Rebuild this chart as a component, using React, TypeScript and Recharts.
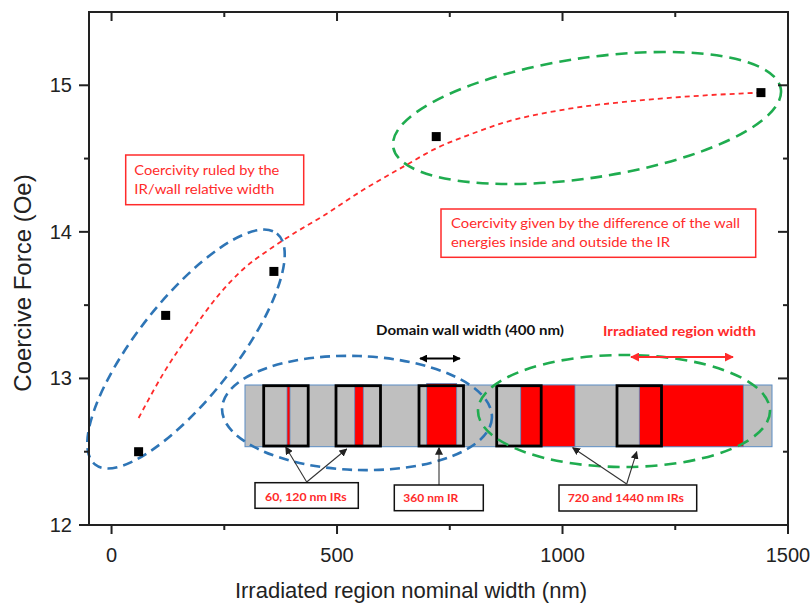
import { ComposedChart, Line, ReferenceLine, Scatter, XAxis, YAxis } from 'recharts';

// measured coercive force of the irradiated-region samples
const irWidths = [60, 120, 360, 720, 1440];
const coerciveForce = [12.5, 13.43, 13.73, 14.65, 14.95];

// red guide-to-the-eye curve
const guideWidths = [60, 120, 175, 235, 290, 350, 410, 470, 560, 650, 720, 800, 870, 1015, 1165, 1310, 1440];
const guideForce = [12.73, 13.06, 13.31, 13.56, 13.74, 13.88, 14.0, 14.11, 14.29, 14.45, 14.57, 14.67, 14.745, 14.84, 14.895, 14.93, 14.95];

const xTicks = [0, 250, 500, 750, 1000, 1250, 1500];
const yTicks = [12, 12.5, 13, 13.5, 14, 14.5, 15];
const xDomain = [-50, 1500];
const yDomain = [12, 15.5];

const points = irWidths.map((x, i) => ({ x, y: coerciveForce[i] }));
const guide = guideWidths.map((x, i) => ({ x, y: guideForce[i] }));

const W = 812;
const H = 606;
const MARGIN = { top: 12, right: 24, bottom: 0, left: 0 };
const PLOT_TOP = MARGIN.top;
const PLOT_RIGHT = W - MARGIN.right;
const PLOT_LEFT = 89;
const PLOT_BOTTOM = H - 81;

const AXIS = '#222';
const RED = '#ff2b2b';
const BLUE = '#2e75b6';
const GREEN = '#1fac4f';
const FONT = '"Liberation Sans", Arial, sans-serif';
const NOTE_FONT = 'Lato, "Noto Sans", sans-serif';

const isMajorX = (v: number) => v % 500 === 0;
const isMajorY = (v: number) => Number.isInteger(v);

// bottom ticks point out, the mirrored top ticks point in
function XTick(p: any) {
  const len = isMajorX(p.payload.value) ? 9 : 5;
  return (
    <g>
      <line x1={p.x} x2={p.x} y1={p.y} y2={p.y + len} stroke={AXIS} strokeWidth={2} />
      <line x1={p.x} x2={p.x} y1={PLOT_TOP} y2={PLOT_TOP + len} stroke={AXIS} strokeWidth={2} />
      {len === 9 && (
        <text x={p.x} y={p.y + 37} textAnchor="middle" fontSize={20} fontFamily={FONT} fill={AXIS}>
          {p.payload.value}
        </text>
      )}
    </g>
  );
}

function YTick(p: any) {
  const len = isMajorY(p.payload.value) ? 10 : 5;
  return (
    <g>
      <line x1={p.x} x2={p.x - len} y1={p.y} y2={p.y} stroke={AXIS} strokeWidth={2} />
      <line x1={PLOT_RIGHT} x2={PLOT_RIGHT - len} y1={p.y} y2={p.y} stroke={AXIS} strokeWidth={2} />
      {len === 10 && (
        <text x={p.x - 17} y={p.y + 7} textAnchor="end" fontSize={20} fontFamily={FONT} fill={AXIS}>
          {p.payload.value}
        </text>
      )}
    </g>
  );
}

function Square(p: any) {
  return <rect x={p.cx - 4.5} y={p.cy - 4.5} width={9} height={9} fill="#000" />;
}

function XTitle(p: any) {
  const vb = p.viewBox;
  return (
    <text x={vb.x + 322} y={vb.y + 73} textAnchor="middle" fontSize={22} fontFamily={FONT} fill={AXIS}>
      Irradiated region nominal width (nm)
    </text>
  );
}

function YTitle(p: any) {
  const vb = p.viewBox;
  const cx = vb.x + 31;
  const cy = 283;
  return (
    <text x={cx} y={cy} transform={`rotate(-90 ${cx} ${cy})`} textAnchor="middle" fontSize={24} fontFamily={FONT} fill={AXIS}>
      Coercive Force (Oe)
    </text>
  );
}

// schematic drawn behind the chart: ellipses, notes and the stripe inset
function Annotations() {
  const barTop = 385;
  const barBottom = 446.7;
  const reds = [
    [287, 3],
    [354.7, 8.6],
    [426.7, 30],
    [520.7, 54.3],
    [639.3, 104],
  ];
  const boxes = [263.7, 336, 419, 496.7, 617];
  const dashBlue = { fill: 'none', stroke: BLUE, strokeWidth: 2.6, strokeDasharray: '10 6' };
  const dashGreen = { fill: 'none', stroke: GREEN, strokeWidth: 2.6, strokeDasharray: '12 7' };
  const arrow = { stroke: '#333', strokeWidth: 1.1, markerEnd: 'url(#tip)' };
  return (
    <svg width={W} height={H} style={{ position: 'absolute', left: 0, top: 0 }}>
      <defs>
        <marker id="tip" viewBox="0 0 10 10" refX="9" refY="5" markerWidth="8" markerHeight="8" markerUnits="userSpaceOnUse" orient="auto">
          <path d="M0,0 L10,5 L0,10 z" fill="#222" />
        </marker>
        <marker id="tipB" viewBox="0 0 10 10" refX="9" refY="5" markerWidth="8" markerHeight="8" markerUnits="userSpaceOnUse" orient="auto-start-reverse">
          <path d="M0,0 L10,5 L0,10 z" fill="#000" />
        </marker>
        <marker id="tipR" viewBox="0 0 10 10" refX="9" refY="5" markerWidth="9" markerHeight="9" markerUnits="userSpaceOnUse" orient="auto-start-reverse">
          <path d="M0,0 L10,5 L0,10 z" fill={RED} />
        </marker>
      </defs>

      {/* notes */}
      <rect x={125.7} y={155} width={178} height={49.7} fill="#fff" stroke={RED} strokeWidth={1.5} />
      <text x={134.3} y={175} fontSize={14} fontFamily={NOTE_FONT} fill={RED} textLength={145} lengthAdjust="spacingAndGlyphs">
        Coercivity ruled by the
      </text>
      <text x={134.3} y={194} fontSize={14} fontFamily={NOTE_FONT} fill={RED} textLength={140} lengthAdjust="spacingAndGlyphs">
        IR/wall relative width
      </text>
      <rect x={441} y={209} width={314.7} height={48.3} fill="#fff" stroke={RED} strokeWidth={1.5} />
      <text x={451} y={227.5} fontSize={14} fontFamily={NOTE_FONT} fill={RED} textLength={289} lengthAdjust="spacingAndGlyphs">
        Coercivity given by the difference of the wall
      </text>
      <text x={451} y={247} fontSize={14} fontFamily={NOTE_FONT} fill={RED} textLength={219} lengthAdjust="spacingAndGlyphs">
        energies inside and outside the IR
      </text>

      {/* stripe inset */}
      <rect x={245} y={barTop} width={527} height={barBottom - barTop} fill="#bfbfbf" stroke="#5b8cc4" strokeWidth={1} />
      {reds.map(([x, w], i) => (
        <rect key={i} x={x} y={i === 2 ? barTop - 1.5 : barTop} width={w} height={barBottom - barTop + (i === 2 ? 1.5 : 0)} fill="#ff0000" stroke="#5b8cc4" strokeWidth={0.8} />
      ))}
      {boxes.map((x, i) => (
        <rect key={i} x={x} y={barTop + 0.7} width={44.5} height={60.3} fill="none" stroke="#000" strokeWidth={2.8} />
      ))}

      <ellipse cx={186} cy={349} rx={147} ry={49} transform="rotate(-51.8 186 349)" {...dashBlue} />
      <ellipse cx={357} cy={413} rx={135} ry={57} transform="rotate(2 357 413)" {...dashBlue} />
      <ellipse cx={587} cy={118} rx={196} ry={60} transform="rotate(-8.5 587 118)" {...dashGreen} />
      <ellipse cx={624} cy={411} rx={146} ry={56} {...dashGreen} />

      <text x={376} y={335} fontSize={13} fontWeight={700} fontFamily={NOTE_FONT} fill="#111" textLength={188} lengthAdjust="spacingAndGlyphs">
        Domain wall width (400 nm)
      </text>
      <line x1={420} y1={358.5} x2={460} y2={358.5} stroke="#000" strokeWidth={2} markerStart="url(#tipB)" markerEnd="url(#tipB)" />
      <text x={603} y={336} fontSize={13} fontWeight={700} fontFamily={NOTE_FONT} fill={RED} textLength={153} lengthAdjust="spacingAndGlyphs">
        Irradiated region width
      </text>
      <line x1={631} y1={357} x2={733} y2={357} stroke={RED} strokeWidth={2} markerStart="url(#tipR)" markerEnd="url(#tipR)" />

      {/* pointers */}
      <line x1={306.7} y1={482} x2={285.7} y2={447} {...arrow} />
      <line x1={306.7} y1={482} x2={346.7} y2={449} {...arrow} />
      <line x1={439} y1={485} x2={439} y2={447.5} {...arrow} />
      <line x1={626.7} y1={484} x2={572.7} y2={447.7} {...arrow} />
      <line x1={626.7} y1={484} x2={636.7} y2={451.7} {...arrow} />

      <rect x={255} y={482.7} width={103.3} height={25.6} fill="#fff" stroke="#111" strokeWidth={1.5} />
      <text x={265} y={501} fontSize={12} fontWeight={700} fontFamily={NOTE_FONT} fill={RED} textLength={81.7} lengthAdjust="spacingAndGlyphs">
        60, 120 nm IRs
      </text>
      <rect x={394.3} y={485} width={89} height={25.7} fill="#fff" stroke="#111" strokeWidth={1.5} />
      <text x={403.3} y={502.3} fontSize={12} fontWeight={700} fontFamily={NOTE_FONT} fill={RED} textLength={55} lengthAdjust="spacingAndGlyphs">
        360 nm IR
      </text>
      <rect x={559} y={485} width={137.7} height={26} fill="#fff" stroke="#111" strokeWidth={1.5} />
      <text x={567.7} y={502} fontSize={12} fontWeight={700} fontFamily={NOTE_FONT} fill={RED} textLength={116.3} lengthAdjust="spacingAndGlyphs">
        720 and 1440 nm IRs
      </text>
    </svg>
  );
}

export default function App() {
  return (
    <div style={{ position: 'absolute', left: 0, top: 0, width: W, height: H, background: '#fff', fontFamily: FONT }}>
      <Annotations />
      <div style={{ position: 'absolute', left: 0, top: 0 }}>
        <ComposedChart width={W} height={H} margin={MARGIN}>
          <XAxis
            type="number"
            dataKey="x"
            domain={xDomain}
            allowDataOverflow
            ticks={xTicks}
            interval={0}
            height={81}
            tickSize={0}
            tickMargin={0}
            tickLine={false}
            tick={XTick}
            axisLine={{ stroke: AXIS, strokeWidth: 2 }}
            label={<XTitle />}
          />
          <YAxis
            type="number"
            domain={yDomain}
            allowDataOverflow
            ticks={yTicks}
            interval={0}
            width={89}
            tickSize={0}
            tickMargin={0}
            tickLine={false}
            tick={YTick}
            axisLine={{ stroke: AXIS, strokeWidth: 2 }}
            label={<YTitle />}
          />
          <ReferenceLine y={yDomain[1]} stroke={AXIS} strokeWidth={2} ifOverflow="visible" />
          <ReferenceLine x={xDomain[1]} stroke={AXIS} strokeWidth={2} ifOverflow="visible" />
          <Line
            data={guide}
            dataKey="y"
            type="monotone"
            stroke={RED}
            strokeWidth={1.8}
            strokeDasharray="5 4"
            dot={false}
            activeDot={false}
            isAnimationActive={false}
          />
          <Scatter data={points} dataKey="y" shape={Square} isAnimationActive={false} />
        </ComposedChart>
      </div>
      {/* closing frame on the top and right sides of the plot */}
      <div
        style={{
          position: 'absolute',
          left: PLOT_LEFT - 1,
          top: PLOT_TOP - 1,
          width: PLOT_RIGHT - PLOT_LEFT,
          height: PLOT_BOTTOM - PLOT_TOP,
          borderTop: `2px solid ${AXIS}`,
          borderRight: `2px solid ${AXIS}`,
          pointerEvents: 'none',
        }}
      />
    </div>
  );
}
